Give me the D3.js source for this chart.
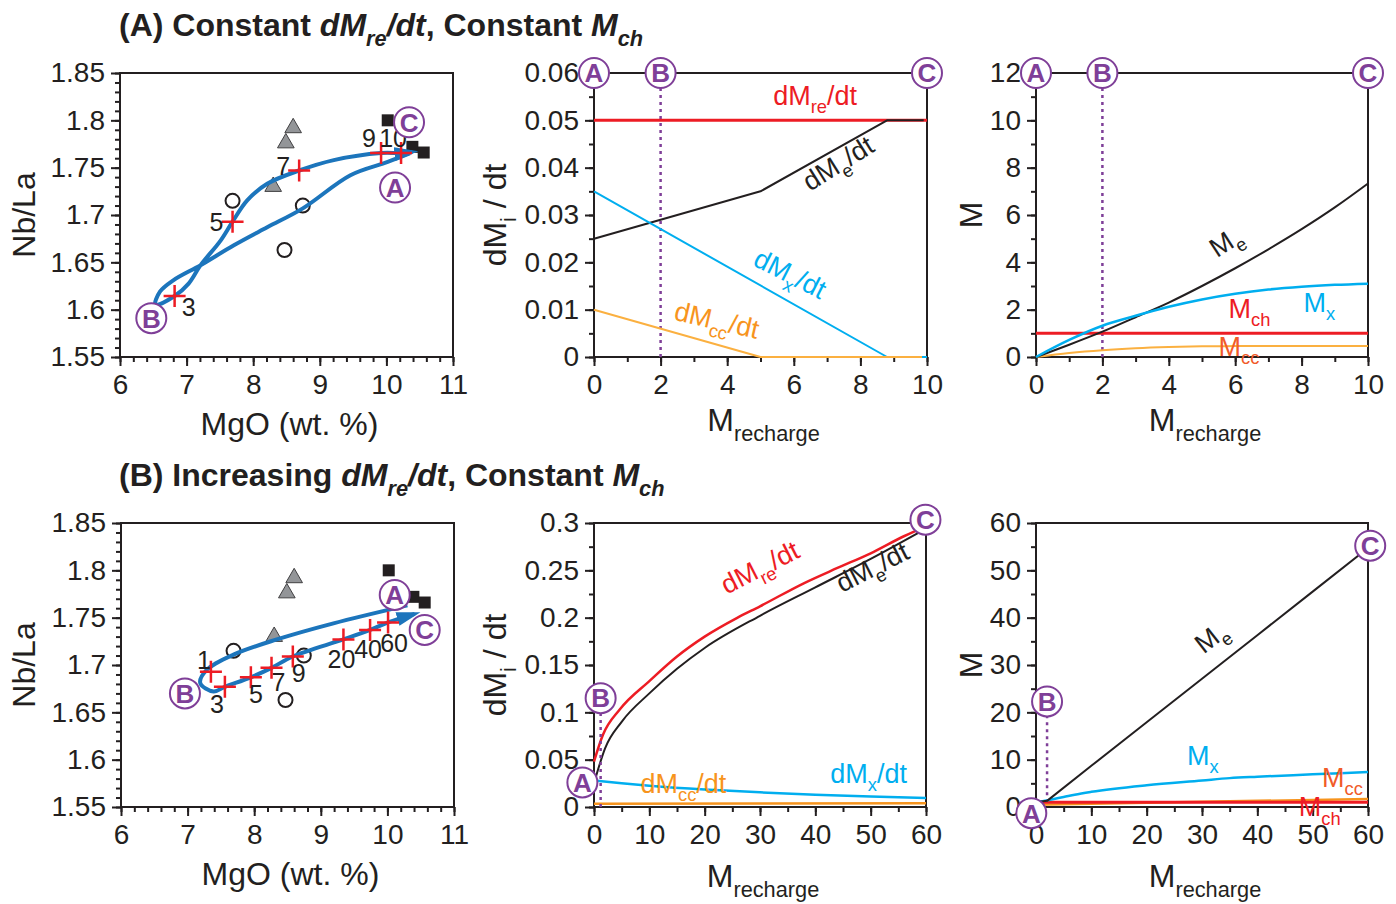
<!DOCTYPE html>
<html>
<head>
<meta charset="utf-8">
<script src="https://cdn.jsdelivr.net/npm/d3@7"></script>
<style>
  body { margin: 0; background: #fff; }
</style>
</head>
<body>
<script>
// ---------- data ----------
// measured samples (MgO wt.%, Nb/La), same in both rows
const squares = [[10.02, 1.800], [10.39, 1.772], [10.56, 1.766]]
const triangles = [[8.60, 1.792], [8.49, 1.776], [8.30, 1.730]]
const openCircles = [[7.69, 1.715], [8.745, 1.710], [8.47, 1.663]]

// row A model path A -> B -> C (MgO, Nb/La)
const pathA = [[10.35, 1.765], [10.02, 1.756], [9.46, 1.742], [8.745, 1.707], [8.21, 1.687], [7.71, 1.668],
  [7.21, 1.647], [6.80, 1.631], [6.60, 1.619], [6.53, 1.605], [6.82, 1.6144], [7.03, 1.6275], [7.21, 1.647],
  [7.51, 1.673], [7.69, 1.693], [7.91, 1.7155], [8.21, 1.733], [8.69, 1.747], [9.21, 1.758], [9.92, 1.7655],
  [10.22, 1.7655], [10.39, 1.7666]]
const crossesA = [[6.82, 1.6144], [7.69, 1.693], [8.69, 1.747], [9.92, 1.7655], [10.22, 1.7655]]
const crossLabelsA = ['3', '5', '7', '9', '10']

// row B model path
const pathB = [[10.3, 1.763], [9.19, 1.744], [8.34, 1.727], [7.69, 1.711], [7.29, 1.695], [7.19, 1.681],
  [7.39, 1.672], [7.56, 1.677], [7.95, 1.687], [8.26, 1.697], [8.58, 1.709], [9.34, 1.727], [9.74, 1.737],
  [10.01, 1.745], [10.41, 1.754]]
const crossesB = [[7.35, 1.693], [7.56, 1.677], [7.95, 1.687], [8.26, 1.697], [8.58, 1.709], [9.34, 1.727], [9.74, 1.737], [10.01, 1.745]]
const crossLabelsB = ['1', '3', '5', '7', '9', '20', '40', '60']

// row A rates (M_recharge, dM/dt)
const dMreA = [[0, 0.05], [10, 0.05]]
const dMeA = [[0, 0.025], [5, 0.035], [8.8, 0.05], [9.9, 0.05]]
const dMxA = [[0, 0.035], [8.8, 0], [10, 0]]
const dMccA = [[0, 0.01], [5, 0], [9.85, 0]]

// row A masses
const MeA = [[0, 0], [1, 0.52], [2, 1.07], [3, 1.68], [4, 2.3], [5, 3.0], [6, 3.75], [7, 4.55], [8, 5.4], [9, 6.32], [10, 7.33]]
const MxA = [[0, 0], [1, 0.72], [2, 1.32], [3, 1.74], [4, 2.12], [5, 2.43], [6, 2.67], [7, 2.85], [8, 2.97], [9, 3.05], [10, 3.1]]
const MchA = [[0, 1], [10, 1]]
const MccA = [[0, 0], [1, 0.17], [2, 0.29], [3, 0.37], [4, 0.42], [5, 0.45], [6, 0.46], [8, 0.46], [10, 0.46]]

// row B rates
const dMreB = [[0, 0.048], [1.6, 0.076], [4.65, 0.103], [10, 0.133], [15, 0.159], [20, 0.18], [25.8, 0.1996],
  [30, 0.212], [38, 0.2366], [44, 0.2525], [50, 0.268], [56, 0.286], [60, 0.2965]]
const dMeB = [[0, 0.025], [2, 0.062], [5, 0.09], [10, 0.12], [15, 0.146], [20, 0.168], [30, 0.202], [40, 0.232], [50, 0.262], [60, 0.294]]
const dMxB = [[0, 0.028], [5, 0.025], [10, 0.0225], [20, 0.0185], [30, 0.0155], [40, 0.013], [50, 0.011], [60, 0.0095]]
const dMccB = [[0, 0.0035], [60, 0.004]]

// row B masses
const MeB = [[0, 1], [2, 1.3], [10, 8.7], [20, 17.9], [30, 27.1], [40, 36.3], [50, 45.5], [60, 54.7]]
const MxB = [[0, 1], [2, 1.4], [5, 2.1], [7, 2.6], [10, 3.2], [20, 4.6], [30, 5.6], [35, 6.1], [40, 6.4], [50, 6.9], [60, 7.4]]
const MchB = [[0, 1], [60, 1]]
const MccB = [[0, 0.5], [10, 0.7], [20, 0.9], [30, 1.1], [40, 1.3], [50, 1.5], [60, 1.7]]

// A/B/C stage markers
const stagesA1 = [['A', 10.13, 1.729], ['B', 6.47, 1.591], ['C', 10.34, 1.798]]
const stagesB1 = [['A', 10.11, 1.774], ['B', 6.96, 1.670], ['C', 10.56, 1.737]]
const stagesA2 = [['A', 0, 0.06], ['B', 2, 0.06], ['C', 10, 0.06]]
const stagesA3 = [['A', 0, 12], ['B', 2, 12], ['C', 10, 12]]
const stagesB2 = [['A', -2.1, 0.026], ['B', 1.2, 0.115], ['C', 59.9, 0.3035]]
const stagesB3 = [['A', -0.85, -1.3], ['B', 2, 22.3], ['C', 60.4, 55.2]]

// ticks
const tickMgO = [6, 7, 8, 9, 10, 11]
const tickNbLa = [1.55, 1.6, 1.65, 1.7, 1.75, 1.8, 1.85]
const tickMrA = [0, 2, 4, 6, 8, 10]
const tickRateA = [0, 0.01, 0.02, 0.03, 0.04, 0.05, 0.06]
const tickMassA = [0, 2, 4, 6, 8, 10, 12]
const tickMrB = [0, 10, 20, 30, 40, 50, 60]
const tickRateB = [0, 0.05, 0.1, 0.15, 0.2, 0.25, 0.3]
const tickMassB = [0, 10, 20, 30, 40, 50, 60]

// ---------- drawing ----------
const INK = '#231f20', RED = '#ed1c24', CYAN = '#00aeef', ORANGE = '#fbb040', ORANGE2 = '#f7941d',
  MCC = '#f15a29', PURPLE = '#7f3f98', BLUE = '#1c75bc'
const FONT = 'Arial, "Liberation Sans", Helvetica, sans-serif'

const svg = d3.select('body').append('svg')
  .attr('width', 1396)
  .attr('height', 904)

const defs = svg.append('defs')
defs.append('marker')
  .attr('id', 'arrow')
  .attr('viewBox', '0 -8 24 16')
  .attr('refX', 18).attr('refY', 0)
  .attr('markerWidth', 24).attr('markerHeight', 16)
  .attr('markerUnits', 'userSpaceOnUse')
  .attr('orient', 'auto')
  .append('path').attr('d', 'M0,-7L24,0L0,7Z').attr('fill', BLUE)

const fmt = d => String(+d.toFixed(3))

function parse(s) { // 'dM_{re}/dt' -> parts
  const out = []; const re = /_\{([^}]*)\}/g; let last = 0, m
  while ((m = re.exec(s))) {
    if (m.index > last) out.push({ t: s.slice(last, m.index) })
    out.push({ t: m[1], sub: true }); last = re.lastIndex
  }
  if (last < s.length) out.push({ t: s.slice(last) })
  return out
}

function rich(g, parts, o) {
  const t = g.append('text')
    .attr('font-family', FONT)
    .attr('font-size', o.size)
    .attr('fill', o.color || INK)
    .attr('text-anchor', o.anchor || 'start')
    .attr('font-weight', o.bold ? 'bold' : null)
    .attr('transform', `translate(${o.x},${o.y}) rotate(${o.rot || 0})`)
  let sub = false
  parts.forEach(p => {
    const ts = t.append('tspan').text(p.t)
    if (p.i) ts.attr('font-style', 'italic')
    if (p.sub) ts.attr('font-size', o.size * 0.68)
    if (p.sub && !sub) ts.attr('dy', o.size * 0.3)
    if (!p.sub && sub) ts.attr('dy', -o.size * 0.3)
    sub = !!p.sub
  })
  return t
}

function makePanel(o) {
  const g = svg.append('g')
  const x = d3.scaleLinear().domain(o.xDomain).range([o.left, o.right])
  const y = d3.scaleLinear().domain(o.yDomain).range([o.bottom, o.top])

  function style(ax) {
    ax.select('.domain').remove()
    ax.selectAll('line').attr('stroke', INK).attr('stroke-width', 2)
    ax.selectAll('text').attr('font-size', 28).attr('font-family', FONT).attr('fill', INK)
  }
  g.append('g').attr('transform', `translate(0,${o.bottom})`)
    .call(d3.axisBottom(x).tickValues(o.xMinor).tickSize(5).tickFormat('')).call(style)
  g.append('g').attr('transform', `translate(${o.left},0)`)
    .call(d3.axisLeft(y).tickValues(o.yMinor).tickSize(5).tickFormat('')).call(style)
  g.append('g').attr('transform', `translate(0,${o.bottom})`)
    .call(d3.axisBottom(x).tickValues(o.xTicks).tickSize(9).tickPadding(8).tickFormat(fmt)).call(style)
  g.append('g').attr('transform', `translate(${o.left},0)`)
    .call(d3.axisLeft(y).tickValues(o.yTicks).tickSize(9).tickPadding(6).tickFormat(fmt)).call(style)

  g.append('rect')
    .attr('x', o.left).attr('y', o.top)
    .attr('width', o.right - o.left).attr('height', o.bottom - o.top)
    .attr('fill', 'none').attr('stroke', INK).attr('stroke-width', 2)

  rich(g, parse(o.xTitle), { x: (o.left + o.right) / 2 + 3, y: o.xTitleY, size: 32, anchor: 'middle' })
  rich(g, parse(o.yTitle), { x: o.yTitleX, y: (o.top + o.bottom) / 2, size: 32, anchor: 'middle', rot: -90 })
  return { g, x, y }
}

function curve(p, data, color, width, kind) {
  const line = d3.line().x(d => p.x(d[0])).y(d => p.y(d[1])).curve(kind || d3.curveLinear)
  return p.g.append('path').datum(data)
    .attr('d', line).attr('fill', 'none')
    .attr('stroke', color).attr('stroke-width', width)
    .attr('stroke-linejoin', 'round')
}

function stageMarks(p, stages) {
  stages.forEach(s => {
    const cx = p.x(s[1]), cy = p.y(s[2])
    p.g.append('circle').attr('cx', cx).attr('cy', cy).attr('r', 15)
      .attr('fill', '#fff').attr('stroke', PURPLE).attr('stroke-width', 2)
    p.g.append('text').attr('x', cx).attr('y', cy).attr('dy', '0.36em')
      .attr('text-anchor', 'middle').attr('font-family', FONT).attr('font-weight', 'bold')
      .attr('font-size', 26).attr('fill', PURPLE).text(s[0])
  })
}

function dotted(p, xv, y0, y1) {
  p.g.append('line')
    .attr('x1', p.x(xv)).attr('x2', p.x(xv))
    .attr('y1', p.y(y0)).attr('y2', p.y(y1))
    .attr('stroke', PURPLE).attr('stroke-width', 2.5).attr('stroke-dasharray', '3,4')
}

function label(p, text, xv, yv, color, size, rot) {
  rich(p.g, parse(text), { x: p.x(xv), y: p.y(yv), size: size, color: color, rot: rot })
}

function nbLaPanel(top, left, path, crosses, crossLabels, offsets, stages) {
  const p = makePanel({
    left: left, right: left + 333, top: top, bottom: top + 284,
    xDomain: [6, 11], yDomain: [1.55, 1.85],
    xTicks: tickMgO, yTicks: tickNbLa,
    xMinor: d3.range(6, 11.01, 0.2), yMinor: d3.range(1.55, 1.851, 0.01),
    xTitle: 'MgO (wt. %)', yTitle: 'Nb/La',
    xTitleY: top + 362, yTitleX: 35
  })
  p.g.selectAll('.sq').data(squares).enter().append('rect')
    .attr('x', d => p.x(d[0]) - 6).attr('y', d => p.y(d[1]) - 6)
    .attr('width', 12).attr('height', 12).attr('fill', INK)
  p.g.selectAll('.tri').data(triangles).enter().append('path')
    .attr('d', d3.symbol(d3.symbolTriangle, 120))
    .attr('transform', d => `translate(${p.x(d[0])},${p.y(d[1])})`)
    .attr('fill', '#939598').attr('stroke', '#414042').attr('stroke-width', 1)
  p.g.selectAll('.oc').data(openCircles).enter().append('circle')
    .attr('cx', d => p.x(d[0])).attr('cy', d => p.y(d[1])).attr('r', 7)
    .attr('fill', '#fff').attr('stroke', INK).attr('stroke-width', 2)

  curve(p, path, BLUE, 4, d3.curveCatmullRom.alpha(0.5))
    .attr('marker-end', 'url(#arrow)')

  p.g.selectAll('.cr').data(crosses).enter().append('path')
    .attr('d', d => {
      const cx = p.x(d[0]), cy = p.y(d[1])
      return `M${cx - 11},${cy}H${cx + 11}M${cx},${cy - 11}V${cy + 11}`
    })
    .attr('stroke', RED).attr('stroke-width', 2.5)
  p.g.selectAll('.cl').data(crosses).enter().append('text')
    .attr('x', (d, i) => p.x(d[0]) + offsets[i][0])
    .attr('y', (d, i) => p.y(d[1]) + offsets[i][1])
    .attr('dy', '0.36em').attr('text-anchor', 'middle')
    .attr('font-family', FONT).attr('font-size', 25).attr('fill', INK)
    .text((d, i) => crossLabels[i])
  stageMarks(p, stages)
  return p
}

// titles
rich(svg, [{ t: '(A) Constant ' }, { t: 'dM', i: true }, { t: 're', i: true, sub: true }, { t: '/dt', i: true },
  { t: ', Constant ' }, { t: 'M', i: true }, { t: 'ch', i: true, sub: true }],
  { x: 119, y: 36, size: 32, bold: true })
rich(svg, [{ t: '(B) Increasing ' }, { t: 'dM', i: true }, { t: 're', i: true, sub: true }, { t: '/dt', i: true },
  { t: ', Constant ' }, { t: 'M', i: true }, { t: 'ch', i: true, sub: true }],
  { x: 119, y: 486, size: 32, bold: true })

// ----- row A -----
nbLaPanel(73, 120, pathA, crossesA, crossLabelsA,
  [[14, 11], [-16, 0], [-16, -5], [-12, -15], [-8, -15]], stagesA1)

const a2 = makePanel({
  left: 594, right: 927, top: 73, bottom: 357,
  xDomain: [0, 10], yDomain: [0, 0.06],
  xTicks: tickMrA, yTicks: tickRateA,
  xMinor: d3.range(0, 10.1, 1), yMinor: d3.range(0, 0.0601, 0.005),
  xTitle: 'M_{recharge}', yTitle: 'dM_{i} / dt',
  xTitleY: 431, yTitleX: 506
})
dotted(a2, 2, 0, 0.06)
curve(a2, dMreA, RED, 3)
curve(a2, dMeA, INK, 2)
curve(a2, dMxA, CYAN, 2)
curve(a2, dMccA, ORANGE, 2)
label(a2, 'dM_{re}/dt', 5.38, 0.0532, RED, 27, 0)
label(a2, 'dM_{e}/dt', 6.49, 0.0349, INK, 27, -32)
label(a2, 'dM_{x}/dt', 4.74, 0.0195, CYAN, 27, 27)
label(a2, 'dM_{cc}/dt', 2.37, 0.0079, ORANGE2, 27, 13)
stageMarks(a2, stagesA2)

const a3 = makePanel({
  left: 1036, right: 1368, top: 73, bottom: 357,
  xDomain: [0, 10], yDomain: [0, 12],
  xTicks: tickMrA, yTicks: tickMassA,
  xMinor: d3.range(0, 10.1, 1), yMinor: d3.range(0, 12.1, 1),
  xTitle: 'M_{recharge}', yTitle: 'M',
  xTitleY: 431, yTitleX: 982
})
dotted(a3, 2, 0, 12)
curve(a3, MccA, ORANGE, 2, d3.curveMonotoneX)
curve(a3, MchA, RED, 3)
curve(a3, MeA, INK, 2, d3.curveMonotoneX)
curve(a3, MxA, CYAN, 2.5, d3.curveMonotoneX)
label(a3, 'M_{e}', 5.45, 4.17, INK, 27, -33)
label(a3, 'M_{ch}', 5.8, 1.64, RED, 27, 0)
label(a3, 'M_{x}', 8.06, 1.92, CYAN, 27, 0)
label(a3, 'M_{cc}', 5.5, 0.05, MCC, 27, 0)
stageMarks(a3, stagesA3)

// ----- row B -----
nbLaPanel(523, 121, pathB, crossesB, crossLabelsB,
  [[-7, -12], [-8, 17], [5, 17], [7, 14], [6, 17], [-2, 20], [-2, 19], [6, 21]], stagesB1)

const b2 = makePanel({
  left: 594, right: 926, top: 523, bottom: 807,
  xDomain: [0, 60], yDomain: [0, 0.3],
  xTicks: tickMrB, yTicks: tickRateB,
  xMinor: d3.range(0, 60.1, 5), yMinor: d3.range(0, 0.301, 0.025),
  xTitle: 'M_{recharge}', yTitle: 'dM_{i} / dt',
  xTitleY: 887, yTitleX: 506
})
curve(b2, dMccB, ORANGE2, 2.5)
curve(b2, dMxB, CYAN, 2.5, d3.curveMonotoneX)
curve(b2, dMreB, RED, 2.5, d3.curveMonotoneX)
curve(b2, dMeB, INK, 2, d3.curveMonotoneX)
dotted(b2, 1.2, 0, 0.115)
label(b2, 'dM_{re}/dt', 24.0, 0.2243, RED, 27, -27)
label(b2, 'dM_{e}/dt', 44.8, 0.226, INK, 27, -27)
label(b2, 'dM_{x}/dt', 42.7, 0.0254, CYAN, 27, 0)
label(b2, 'dM_{cc}/dt', 8.4, 0.0148, ORANGE2, 27, 0)
stageMarks(b2, stagesB2)

const b3 = makePanel({
  left: 1036, right: 1368, top: 523, bottom: 807,
  xDomain: [0, 60], yDomain: [0, 60],
  xTicks: tickMrB, yTicks: tickMassB,
  xMinor: d3.range(0, 60.1, 5), yMinor: d3.range(0, 60.1, 5),
  xTitle: 'M_{recharge}', yTitle: 'M',
  xTitleY: 887, yTitleX: 982
})
dotted(b3, 2, 1, 22.3)
curve(b3, MccB, ORANGE2, 2.5)
curve(b3, MchB, RED, 3)
curve(b3, MxB, CYAN, 2.5, d3.curveMonotoneX)
curve(b3, MeB, INK, 2)
label(b3, 'M_{e}', 30.3, 32.2, INK, 27, -38)
label(b3, 'M_{x}', 27.3, 8.94, CYAN, 27, 0)
label(b3, 'M_{cc}', 51.7, 4.2, MCC, 27, 0)
label(b3, 'M_{ch}', 47.5, -2.0, RED, 27, 0)
stageMarks(b3, stagesB3)
</script>
</body>
</html>
